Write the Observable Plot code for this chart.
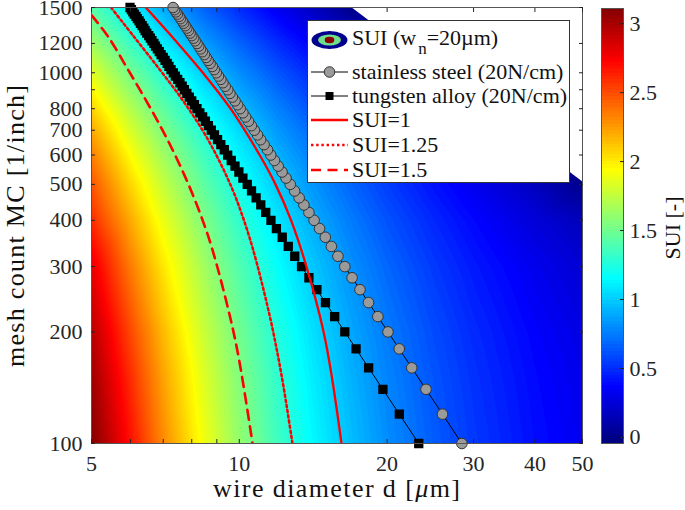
<!DOCTYPE html>
<html><head><meta charset="utf-8">
<script src="https://cdn.jsdelivr.net/npm/d3@7"></script>
<script src="https://cdn.jsdelivr.net/npm/@observablehq/plot@0.6"></script>
<style>
body{margin:0;background:#fff;}
#wrap{display:flex;width:685px;height:510px;background:#fff;}
#wrap svg{font-family:"Liberation Serif","Times New Roman",serif;}
</style></head><body><div id="wrap"></div>
<script>
// ---- SUI field, sampled (wire diameter d [µm] x mesh count MC [1/inch]) ----
const fieldDiameters = [5, 6, 7, 8.5, 10, 12, 14, 17, 20, 25, 30, 40, 50];
const fieldMeshCounts = [100, 150, 200, 300, 400, 500, 600, 700, 800, 1000, 1200, 1500];
const fieldSUI = [
  [3.11, 2.687, 2.303, 1.896, 1.611, 1.341, 1.149, 0.946, 0.803, 0.641, 0.534, 0.399, 0.318],
  [3.03, 2.598, 2.225, 1.831, 1.555, 1.294, 1.108, 0.910, 0.772, 0.616, 0.511, 0.380, 0.301],
  [2.95, 2.512, 2.151, 1.768, 1.501, 1.248, 1.067, 0.875, 0.741, 0.589, 0.487, 0.359, 0.281],
  [2.80, 2.351, 2.011, 1.650, 1.397, 1.158, 0.987, 0.806, 0.678, 0.533, 0.435, 0.310, 0.229],
  [2.60, 2.203, 1.880, 1.538, 1.299, 1.072, 0.910, 0.737, 0.614, 0.474, 0.377, 0.247, 0.150],
  [2.47, 2.065, 1.759, 1.434, 1.206, 0.989, 0.834, 0.668, 0.549, 0.410, 0.312, 0.164, 0.015],
  [2.34, 1.938, 1.646, 1.336, 1.117, 0.910, 0.760, 0.599, 0.482, 0.342, 0.237, 0.050, 0],
  [2.21, 1.819, 1.540, 1.243, 1.034, 0.834, 0.689, 0.531, 0.415, 0.270, 0.151, 0, 0],
  [2.08, 1.708, 1.441, 1.155, 0.954, 0.760, 0.619, 0.463, 0.345, 0.191, 0.052, 0, 0],
  [1.85, 1.508, 1.260, 0.994, 0.805, 0.621, 0.484, 0.328, 0.202, 0.015, 0, 0, 0],
  [1.65, 1.331, 1.099, 0.849, 0.670, 0.492, 0.357, 0.194, 0.054, 0, 0, 0, 0],
  [1.42, 1.115, 0.889, 0.657, 0.487, 0.314, 0.176, 0, 0, 0, 0, 0, 0]
];
// edge of the valid region (wire diameter = mesh pitch); white beyond it
const blankEdgeD = [16.93, 50];
const blankEdgeMC = [1500, 508];

// ---- wire lines ----
const meshCounts = [100,120,140,160,180,200,220,240,260,280,300,320,340,360,380,400,420,440,460,480,500,520,540,560,580,600,620,640,660,680,700,720,740,760,780,800,820,840,860,880,900,920,940,960,980,1000,1020,1040,1060,1080,1100,1120,1140,1160,1180,1200,1220,1240,1260,1280,1300,1320,1340,1360,1380,1400,1420,1440,1460,1480,1500];
const steelD = [28.40,25.93,24.00,22.45,21.17,20.08,19.15,18.33,17.61,16.97,16.40,15.88,15.40,14.97,14.57,14.20,13.86,13.54,13.24,12.96,12.70,12.45,12.22,12.00,11.79,11.59,11.41,11.23,11.05,10.89,10.73,10.58,10.44,10.30,10.17,10.04,9.92,9.80,9.68,9.57,9.47,9.36,9.26,9.17,9.07,8.98,8.89,8.81,8.72,8.64,8.56,8.49,8.41,8.34,8.27,8.20,8.13,8.07,8.00,7.94,7.88,7.82,7.76,7.70,7.65,7.59,7.54,7.48,7.43,7.38,7.33];
const tungstenD = [23.20,21.18,19.61,18.34,17.29,16.40,15.64,14.98,14.39,13.86,13.39,12.97,12.58,12.23,11.90,11.60,11.32,11.06,10.82,10.59,10.38,10.17,9.98,9.80,9.63,9.47,9.32,9.17,9.03,8.90,8.77,8.65,8.53,8.42,8.31,8.20,8.10,8.00,7.91,7.82,7.73,7.65,7.57,7.49,7.41,7.34,7.26,7.19,7.13,7.06,7.00,6.93,6.87,6.81,6.75,6.70,6.64,6.59,6.54,6.48,6.43,6.39,6.34,6.29,6.25,6.20,6.16,6.11,6.07,6.03,5.99];

// ---- SUI iso-lines ----
const sui1D  = [6.45,7.50,8.43,9.60,11.0,11.85,12.75,13.7,14.85,15.45,16.15];
const sui1MC = [1500,1200,1000,800,600,500,400,300,200,150,100];
const sui125D  = [5.48,6.12,6.91,7.68,8.42,9.03,9.65,10.11,10.65,11.55,12.21,12.83];
const sui125MC = [1500,1245,1014,841,699,591,490,417,336,219,151,100];
const sui15D  = [5.0,5.42,5.90,6.46,6.98,7.44,7.93,8.38,8.80,9.58,10.00,10.64];
const sui15MC = [1430,1245,1033,841,699,591,490,407,336,219,167,100];

// ---- ticks ----
const xTicks = [5,6,7,8,9,10,20,30,40,50];
const xTickLabels = [5,10,20,30,40,50];
const yTicks = [100,200,300,400,500,600,700,800,900,1000,1200,1500];
const yTickLabels = [100,200,300,400,500,600,700,800,1000,1200,1500];
const cbTicks = [0,0.5,1,1.5,2,2.5,3];
const colorMin = -0.044, colorMax = 3.11;

// ---- build tables ----
const field = fieldMeshCounts.flatMap((mc, i) => fieldDiameters.map((d, j) => ({d, mc, sui: fieldSUI[i][j]})));
const pairs = (D, M) => D.map((d, i) => ({d, mc: M[i]}));
const steel = pairs(steelD, meshCounts);
const tungsten = pairs(tungstenD, meshCounts);
const iso1 = pairs(sui1D, sui1MC), iso125 = pairs(sui125D, sui125MC), iso15 = pairs(sui15D, sui15MC);
const blank = blankEdgeD.map((d, i) => ({d, mc: blankEdgeMC[i], dEnd: 50}));

function jet(t) {
  t = Math.max(0, Math.min(1, t));
  const c = v => Math.round(255 * Math.max(0, Math.min(1, v)));
  return `rgb(${c(1.5 - Math.abs(4*t - 3))},${c(1.5 - Math.abs(4*t - 2))},${c(1.5 - Math.abs(4*t - 1))})`;
}
const nLevels = 128;
const levelStep = (colorMax - colorMin) / nLevels;
const thresholds = d3.range(nLevels).map(i => colorMin + i * levelStep);
const colorOpt = {type: "linear", domain: [colorMin, colorMax], interpolate: jet};

const axisColor = "#262626";
const dotted = "2.4,2.8", dashed = "10,6.5";
const main = Plot.plot({
  width: 601, height: 510,
  marginLeft: 91, marginRight: 19, marginTop: 7, marginBottom: 67,
  style: {fontFamily: "Liberation Serif, serif", fontSize: "22px", color: axisColor, background: "white", overflow: "visible"},
  x: {type: "log", domain: [5, 50]},
  y: {type: "log", domain: [100, 1500]},
  color: colorOpt,
  marks: [
    Plot.contour(field, {x: "d", y: "mc", fill: "sui", thresholds, interpolate: "barycentric",
      x1: 5, x2: 50, y1: 100, y2: 1500, pixelSize: 1, stroke: "none"}),
    Plot.areaX(blank, {y: "mc", x1: "d", x2: "dEnd", fill: "white", clip: true}),
    Plot.line(steel, {x: "d", y: "mc", stroke: "black", strokeWidth: 1}),
    Plot.dot(steel, {x: "d", y: "mc", r: 5.3, fill: "#9a9a9a", stroke: "#333", strokeWidth: 1}),
    Plot.line(tungsten, {x: "d", y: "mc", stroke: "black", strokeWidth: 1}),
    Plot.dot(tungsten, {x: "d", y: "mc", symbol: "square", r: 4.4, fill: "black", stroke: "black"}),
    Plot.line(iso1, {x: "d", y: "mc", stroke: "#ff0000", strokeWidth: 2.3, curve: "catmull-rom", clip: true}),
    Plot.line(iso125, {x: "d", y: "mc", stroke: "#ff0000", strokeWidth: 2.5, strokeDasharray: dotted, curve: "catmull-rom", clip: true}),
    Plot.line(iso15, {x: "d", y: "mc", stroke: "#ff0000", strokeWidth: 2.6, strokeDasharray: dashed, curve: "catmull-rom", clip: true}),
    Plot.frame({stroke: "#555", strokeWidth: 1}),
    Plot.axisX({anchor: "bottom", ticks: xTicks, tickFormat: d => xTickLabels.includes(d) ? String(d) : "", tickSize: -4, tickPadding: 16, label: null, fontSize: 22}),
    Plot.axisX({anchor: "top", ticks: xTicks, tickFormat: () => "", tickSize: -4, label: null}),
    Plot.axisY({anchor: "left", ticks: yTicks, tickFormat: d => yTickLabels.includes(d) ? String(d) : "", tickSize: -4, tickPadding: 13, label: null, fontSize: 22}),
    Plot.axisY({anchor: "right", ticks: yTicks, tickFormat: () => "", tickSize: -4, label: null})
  ]
});

const levelRects = thresholds.map(v => ({lo: v, hi: v + levelStep, a: 0, b: 1}));
const cbar = Plot.plot({
  width: 84, height: 510,
  marginLeft: 0, marginRight: 62, marginTop: 8, marginBottom: 67,
  style: {fontFamily: "Liberation Serif, serif", fontSize: "22px", color: axisColor, background: "white", overflow: "visible"},
  x: {domain: [0, 1], axis: null},
  y: {domain: [colorMin, colorMax]},
  color: colorOpt,
  marks: [
    Plot.rect(levelRects, {x1: "a", x2: "b", y1: "lo", y2: "hi", fill: "lo", shapeRendering: "crispEdges"}),
    Plot.frame({stroke: "#555"}),
    Plot.axisY({anchor: "right", ticks: cbTicks, tickFormat: d => String(d), tickSize: -4, tickPadding: 10, label: null, fontSize: 22})
  ]
});

const wrap = document.getElementById("wrap");
wrap.appendChild(main);
wrap.appendChild(cbar);

// axis titles
const ms = d3.select(main);
const xl = ms.append("text").attr("x", 336.5).attr("y", 497).attr("text-anchor", "middle")
  .attr("font-size", 26).attr("fill", "#111").attr("textLength", 247).attr("lengthAdjust", "spacing");
xl.append("tspan").text("wire diameter d [");
xl.append("tspan").attr("font-style", "italic").text("μ");
xl.append("tspan").text("m]");
ms.append("text").attr("transform", "translate(24,226) rotate(-90)").attr("text-anchor", "middle")
  .attr("font-size", 26).attr("fill", "#111").attr("textLength", 282).attr("lengthAdjust", "spacing")
  .text("mesh count MC [1/inch]");

// legend
const lg = ms.append("g").attr("font-size", 22).attr("fill", "#111").attr("text-anchor", "start");
lg.append("rect").attr("x", 307.5).attr("y", 20.5).attr("width", 262).attr("height", 162)
  .attr("fill", "white").attr("stroke", "#333").attr("stroke-width", 1);
const ix0 = 311, ix1 = 348, icx = 329.5, tx = 352;
lg.append("ellipse").attr("cx", icx).attr("cy", 40).attr("rx", 18).attr("ry", 9).attr("fill", "#00008f");
lg.append("ellipse").attr("cx", icx).attr("cy", 40).attr("rx", 11.5).attr("ry", 5.5).attr("fill", "#6fe08a");
lg.append("ellipse").attr("cx", icx).attr("cy", 40).attr("rx", 4.8).attr("ry", 3.2).attr("fill", "#8b0000");
const t1 = lg.append("text").attr("x", tx).attr("y", 45);
t1.append("tspan").text("SUI (w");
t1.append("tspan").attr("dy", 9).attr("dx", 2).attr("font-size", 17).text("n");
t1.append("tspan").attr("dy", -9).text("=20µm)");
lg.append("line").attr("x1", ix0).attr("x2", ix1).attr("y1", 72).attr("y2", 72).attr("stroke", "black");
lg.append("circle").attr("cx", icx).attr("cy", 72).attr("r", 5.3).attr("fill", "#9a9a9a").attr("stroke", "#333");
lg.append("text").attr("x", tx).attr("y", 79).text("stainless steel (20N/cm)");
lg.append("line").attr("x1", ix0).attr("x2", ix1).attr("y1", 96).attr("y2", 96).attr("stroke", "black");
lg.append("rect").attr("x", icx - 4).attr("y", 92).attr("width", 8).attr("height", 8).attr("fill", "black");
lg.append("text").attr("x", tx).attr("y", 103).text("tungsten alloy (20N/cm)");
lg.append("line").attr("x1", ix0).attr("x2", ix1).attr("y1", 120).attr("y2", 120).attr("stroke", "#ff0000").attr("stroke-width", 2.3);
lg.append("text").attr("x", tx).attr("y", 127).text("SUI=1");
lg.append("line").attr("x1", ix0).attr("x2", ix1).attr("y1", 145).attr("y2", 145).attr("stroke", "#ff0000").attr("stroke-width", 2.5).attr("stroke-dasharray", dotted);
lg.append("text").attr("x", tx).attr("y", 152).text("SUI=1.25");
lg.append("line").attr("x1", ix0).attr("x2", ix1).attr("y1", 170).attr("y2", 170).attr("stroke", "#ff0000").attr("stroke-width", 2.6).attr("stroke-dasharray", dashed);
lg.append("text").attr("x", tx).attr("y", 177).text("SUI=1.5");

// colorbar title
d3.select(cbar).append("text").attr("transform", "translate(79,228) rotate(-90)").attr("text-anchor", "middle")
  .attr("font-size", 22).attr("fill", "#111").text("SUI [-]");
</script></body></html>
